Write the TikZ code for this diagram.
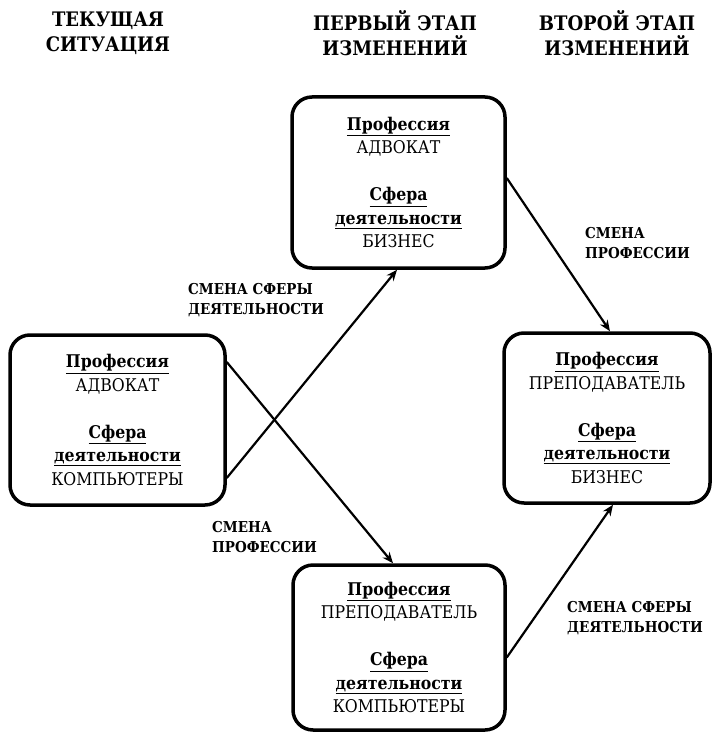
\documentclass[tikz,border=0pt]{standalone}
\usepackage{fontspec}
\setmainfont{DejaVu Serif Condensed}
\usetikzlibrary{arrows.meta}
\begin{document}
\begin{tikzpicture}[x=1pt,y=-1pt,
  stage/.style={draw, line width=3.5pt, rounded corners=20pt, align=center,
    font=\fontsize{17.5}{23.5}\selectfont, inner sep=0pt},
  header/.style={align=center, font=\bfseries\fontsize{20}{25}\selectfont},
  change/.style={align=left, anchor=west, inner xsep=0pt,
    font=\bfseries\fontsize{15}{20.5}\selectfont},
  move/.style={line width=2.2pt, -{Stealth[length=11pt,width=9pt]}}]
\useasboundingbox (0,0) rectangle (713,735);

% column headings
\node[header] (h1) at (108,33) {ТЕКУЩАЯ\\СИТУАЦИЯ};
\node[header] (h2) at (395,33) {ПЕРВЫЙ ЭТАП\\ИЗМЕНЕНИЙ};
\node[header] (h3) at (617,33) {ВТОРОЙ ЭТАП\\ИЗМЕНЕНИЙ};

% states
\node[stage, minimum width=215pt, minimum height=170pt] (L) at (117.5,420)
  {\underline{\textbf{Профессия}}\\АДВОКАТ\\[23.5pt]\underline{\textbf{Сфера}}\\\underline{\textbf{деятельности}}\\КОМПЬЮТЕРЫ};
\node[stage, minimum width=213pt, minimum height=171pt] (T) at (398.5,182.5)
  {\underline{\textbf{Профессия}}\\АДВОКАТ\\[23.5pt]\underline{\textbf{Сфера}}\\\underline{\textbf{деятельности}}\\БИЗНЕС};
\node[stage, minimum width=212pt, minimum height=165pt] (B) at (399,647.5)
  {\underline{\textbf{Профессия}}\\ПРЕПОДАВАТЕЛЬ\\[23.5pt]\underline{\textbf{Сфера}}\\\underline{\textbf{деятельности}}\\КОМПЬЮТЕРЫ};
\node[stage, minimum width=206pt, minimum height=170pt] (R) at (607,418)
  {\underline{\textbf{Профессия}}\\ПРЕПОДАВАТЕЛЬ\\[23.5pt]\underline{\textbf{Сфера}}\\\underline{\textbf{деятельности}}\\БИЗНЕС};

% transitions
\draw[move] ([yshift=-58pt]L.east) -- ([xshift=-1.5pt]T.south);
\draw[move] ([yshift=58pt]L.east) -- ([xshift=-6pt]B.north);
\draw[move] ([yshift=4.5pt]T.east) -- ([xshift=3pt]R.north);
\draw[move] ([yshift=-10pt]B.east) -- ([xshift=6pt]R.south);

% transition labels
\node[change] (c1) at (188,300) {СМЕНА СФЕРЫ\\ДЕЯТЕЛЬНОСТИ};
\node[change] (c2) at (212,537) {СМЕНА\\ПРОФЕССИИ};
\node[change] (c3) at (585,243) {СМЕНА\\ПРОФЕССИИ};
\node[change] (c4) at (567,618) {СМЕНА СФЕРЫ\\ДЕЯТЕЛЬНОСТИ};
\end{tikzpicture}
\end{document}
